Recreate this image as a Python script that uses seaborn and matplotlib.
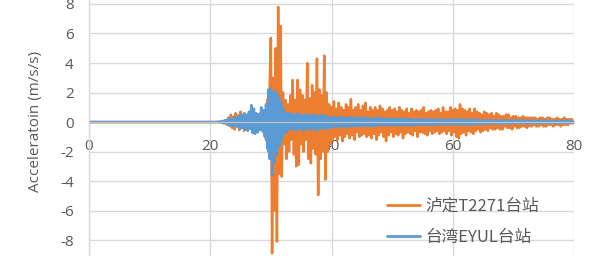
import numpy as np
import pandas as pd
import matplotlib
matplotlib.use("Agg")
import matplotlib.pyplot as plt
from matplotlib.lines import Line2D
import seaborn as sns

# ---------------- data (acceleration, m/s/s), sampled every 0.2 s from t = 21 s ----------------
series_names = ["泸定T2271台站", "台湾EYUL台站"]
start_time = 21.0
step = 0.2

luding = [
    0, 0, 0, 0, 0, 0, 0.05, -0.1, 0.15, -0.2,                      # 21
    0.3, -0.25, 0.5, -0.4, 0.35, -0.5, 0.6, -0.3, 0.45, -0.55,       # 23
    0.7, -0.4, 0.5, -0.6, 0.4, -0.35, 0.55, -0.45, 0.3, -0.5,        # 25
    0.4, -0.3, 0.5, -0.6, 0.35, -0.4, 0.6, -0.5, 0.45, -0.7,         # 27
    0.8, -1.2, 1.5, -2.0, 2.5, 5.7, -8.9, 3.0, -6.0, 5.0,            # 29
    -8.1, 7.8, -3.5, 6.5, -3.7, 2.0, -1.5, 1.5, -2.5, 1.2,           # 31
    -2.0, 1.8, -1.2, 2.85, -2.2, 1.5, -3.0, 2.85, -2.9, 2.2,         # 33
    -1.5, 1.8, -2.0, 1.5, -1.2, 4.0, -2.5, 1.6, -2.8, 2.5,           # 35
    -1.8, 2.0, -2.2, 4.3, -4.95, 2.2, -2.5, 1.8, -2.0, 4.5,          # 37
    -3.9, 2.0, -2.0, 1.2, -1.5, 1.0, -1.2, 1.4, -1.0, 0.9,           # 39
    -1.2, 1.3, -0.9, 1.0, -1.3, 0.8, -1.0, 1.2, -0.8, 1.0,           # 41
    -1.1, 1.55, -0.9, 0.8, -1.2, 1.0, -0.7, 1.2, -1.0, 0.8,          # 43
    -0.9, 1.1, -0.8, 1.3, -1.0, 0.7, -0.9, 1.0, -1.1, 0.8,           # 45
    -0.8, 1.0, -1.2, 0.8, -0.9, 1.1, -0.7, 0.9, -1.0, 0.7,           # 47
    -1.3, 0.8, -0.9, 1.0, -0.7, 0.8, -1.0, 0.9, -0.8, 0.7,           # 49
    -0.9, 1.0, -0.7, 0.8, -1.1, 0.7, -0.8, 0.9, -0.7, 0.6,           # 51
    -0.8, 0.9, -0.9, 0.7, -0.6, 0.8, -1.0, 0.7, -0.7, 0.8,           # 53
    -0.7, 1.0, -0.8, 0.6, -0.9, 0.7, -0.6, 0.8, -0.8, 0.7,           # 55
    -0.7, 0.8, -0.6, 0.9, -0.8, 0.6, -0.7, 1.0, -0.6, 0.7,           # 57
    -0.8, 0.7, -0.6, 1.0, -0.9, 0.8, -0.7, 0.9, -1.0, 0.8,           # 59
    -1.1, 1.2, -0.8, 0.9, -0.7, 0.8, -0.9, 0.7, -0.6, 0.9,           # 61
    -0.7, 0.6, -0.8, 0.9, -0.6, 0.7, -0.5, 0.6, -0.7, 0.5,           # 63
    -0.6, 0.7, -0.5, 0.6, -0.6, 0.5, -0.4, 0.6, -0.5, 0.4,           # 65
    -0.5, 0.6, -0.4, 0.5, -0.5, 0.4, -0.5, 0.4, -0.3, 0.5,           # 67
    -0.4, 0.5, -0.4, 0.3, -0.5, 0.4, -0.3, 0.4, -0.4, 0.3,           # 69
    -0.4, 0.3, -0.3, 0.4, -0.3, 0.3, -0.4, 0.3, -0.3, 0.3,           # 71
    -0.3, 0.3, -0.2, 0.3, -0.3, 0.2, -0.3, 0.3, -0.2, 0.3,           # 73
    -0.3, 0.2, -0.3, 0.3, -0.2, 0.3, -0.2, 0.2, -0.3, 0.2,           # 75
    -0.2, 0.3, -0.2, 0.2, -0.3, 0.2, -0.2, 0.3, -0.2, 0.2,           # 77
    -0.2, 0.2, -0.1, 0.2, -0.1, 0.1,                                 # 79
]

taiwan = [
    0.0, 0.02, -0.03, 0.05, -0.05, 0.08, -0.1, 0.12, -0.1, 0.15,     # 21
    -0.2, 0.25, -0.3, 0.2, -0.25, 0.35, -0.3, 0.3, -0.35, 0.4,       # 23
    -0.45, 0.5, -0.4, 0.6, -0.5, 0.45, -0.6, 0.7, -0.45, 1.15,       # 25
    -0.75, 0.9, -0.8, 0.6, -0.7, 0.5, -0.55, 1.0, -0.6, 0.8,         # 27
    -1.0, 1.2, -1.8, 2.2, -2.5, 2.3, -3.6, 2.0, -2.8, 2.1,           # 29
    -2.2, 1.8, -1.6, 1.5, -1.2, 1.0, -0.8, 0.6, -0.7, 0.6,           # 31
    -0.5, 0.6, -0.4, 0.5, -0.6, 0.4, -0.5, 0.6, -0.4, 0.5,           # 33
    -0.5, 0.4, -0.6, 0.5, -0.4, 0.5, -0.5, 0.4, -0.5, 0.5,           # 35
    -0.4, 0.5, -0.6, 0.4, -0.5, 0.4, -0.4, 0.5, -0.4, 0.4,           # 37
    -0.5, 0.4, -0.4, 0.3, -0.4, 0.3, -0.3, 0.4, -0.3, 0.3,           # 39
    -0.35, 0.3, -0.3, 0.35, -0.25, 0.3, -0.35, 0.25, -0.3, 0.3,      # 41
    -0.3, 0.35, -0.25, 0.3, -0.3, 0.25, -0.3, 0.3, -0.25, 0.3,       # 43
    -0.25, 0.3, -0.3, 0.25, -0.2, 0.3, -0.25, 0.2, -0.3, 0.25,       # 45
    -0.25, 0.2, -0.25, 0.3, -0.2, 0.25, -0.2, 0.25, -0.25, 0.2,      # 47
    -0.2, 0.25, -0.2, 0.2, -0.25, 0.2, -0.2, 0.25, -0.2, 0.2,        # 49
    -0.25, 0.2, -0.2, 0.25, -0.2, 0.2, -0.25, 0.2, -0.2, 0.2,        # 51
    -0.2, 0.2, -0.25, 0.2, -0.2, 0.15, -0.2, 0.2, -0.15, 0.2,        # 53
    -0.2, 0.15, -0.2, 0.2, -0.15, 0.2, -0.2, 0.15, -0.2, 0.15,       # 55
    -0.15, 0.2, -0.15, 0.2, -0.2, 0.15, -0.15, 0.2, -0.15, 0.15,     # 57
    -0.2, 0.15, -0.15, 0.2, -0.15, 0.15, -0.2, 0.15, -0.15, 0.2,     # 59
    -0.15, 0.2, -0.15, 0.15, -0.2, 0.15, -0.15, 0.15, -0.2, 0.15,    # 61
    -0.15, 0.15, -0.2, 0.15, -0.15, 0.15, -0.1, 0.15, -0.15, 0.1,    # 63
    -0.15, 0.1, -0.15, 0.15, -0.1, 0.15, -0.1, 0.1, -0.15, 0.1,      # 65
    -0.1, 0.15, -0.1, 0.1, -0.15, 0.1, -0.1, 0.15, -0.1, 0.1,        # 67
    -0.1, 0.1, -0.15, 0.1, -0.1, 0.1, -0.1, 0.15, -0.1, 0.1,         # 69
    -0.1, 0.1, -0.1, 0.1, -0.1, 0.1, -0.1, 0.1, -0.1, 0.1,           # 71
    -0.1, 0.1, -0.08, 0.1, -0.1, 0.08, -0.1, 0.1, -0.08, 0.1,        # 73
    -0.08, 0.1, -0.1, 0.08, -0.08, 0.1, -0.08, 0.08, -0.1, 0.08,     # 75
    -0.08, 0.08, -0.1, 0.08, -0.08, 0.08, -0.08, 0.1, -0.08, 0.08,   # 77
    -0.08, 0.08, -0.05, 0.08, -0.05, 0.05,                           # 79
]

x_ticks = [0, 20, 40, 60, 80]
y_ticks = [-8, -6, -4, -2, 0, 2, 4, 6, 8]
y_label = "Acceleratoin (m/s/s)"

# ---------------- build a long table ----------------
frames = []
for name, vals in zip(series_names, [luding, taiwan]):
    t = np.concatenate([[0.0], start_time + step * np.arange(len(vals))])
    a = np.concatenate([[0.0], np.asarray(vals, dtype=float)])
    frames.append(pd.DataFrame({"t": t, "a": a, "station": name}))
df = pd.concat(frames, ignore_index=True)

# ---------------- style ----------------
sns.set_theme(style="white")
plt.rcParams["font.family"] = ["Open Sans", "Noto Sans CJK SC", "DejaVu Sans"]

orange = "#ED7D31"
blue = "#5B9BD5"
grid_c = "#D9D9D9"
text_c = "#595959"

fig = plt.figure(figsize=(6.0, 2.56), dpi=100)
ax = fig.add_axes([89 / 600, 0.0, 485 / 600, 1.0])

sns.lineplot(data=df, x="t", y="a", hue="station", hue_order=series_names,
             palette=[orange, blue], estimator=None, sort=False,
             linewidth=1.8, legend=False, ax=ax)

ax.set_xlim(0, 80)
ax.set_ylim(-9.08, 8.27)
ax.set_xticks(x_ticks)
ax.set_yticks(y_ticks)
ax.set_xticklabels([str(v) for v in x_ticks])
ax.set_yticklabels([str(v) for v in y_ticks])

ax.grid(True, color=grid_c, linewidth=1.0)
ax.set_axisbelow(True)
for s in ["top", "right"]:
    ax.spines[s].set_visible(False)
ax.spines["bottom"].set_position(("data", 0))
ax.spines["bottom"].set_color("#BFBFBF")
ax.spines["bottom"].set_linewidth(1.0)
ax.spines["left"].set_color(grid_c)
ax.spines["left"].set_linewidth(1.0)

ax.tick_params(axis="x", length=0, pad=12, labelsize=11, labelcolor=text_c)
ax.tick_params(axis="y", length=0, pad=11, labelsize=11, labelcolor=text_c)

ax.set_xlabel("")
ax.set_ylabel(y_label, fontsize=11, color=text_c)
ax.yaxis.set_label_coords(-0.095, 0.527)

handles = [Line2D([0], [0], color=orange, lw=2.0),
           Line2D([0], [0], color=blue, lw=2.0)]
leg = ax.legend(handles, series_names, loc="center left",
                bbox_to_anchor=(387 / 600, 0.133), bbox_transform=fig.transFigure,
                frameon=False, handlelength=2.0, handletextpad=0.3,
                labelspacing=0.85, borderpad=0, borderaxespad=0,
                prop={"family": ["Noto Sans CJK SC", "DejaVu Sans"], "size": 12})
for txt in leg.get_texts():
    txt.set_color(text_c)

fig.savefig("out.png", dpi=100)
